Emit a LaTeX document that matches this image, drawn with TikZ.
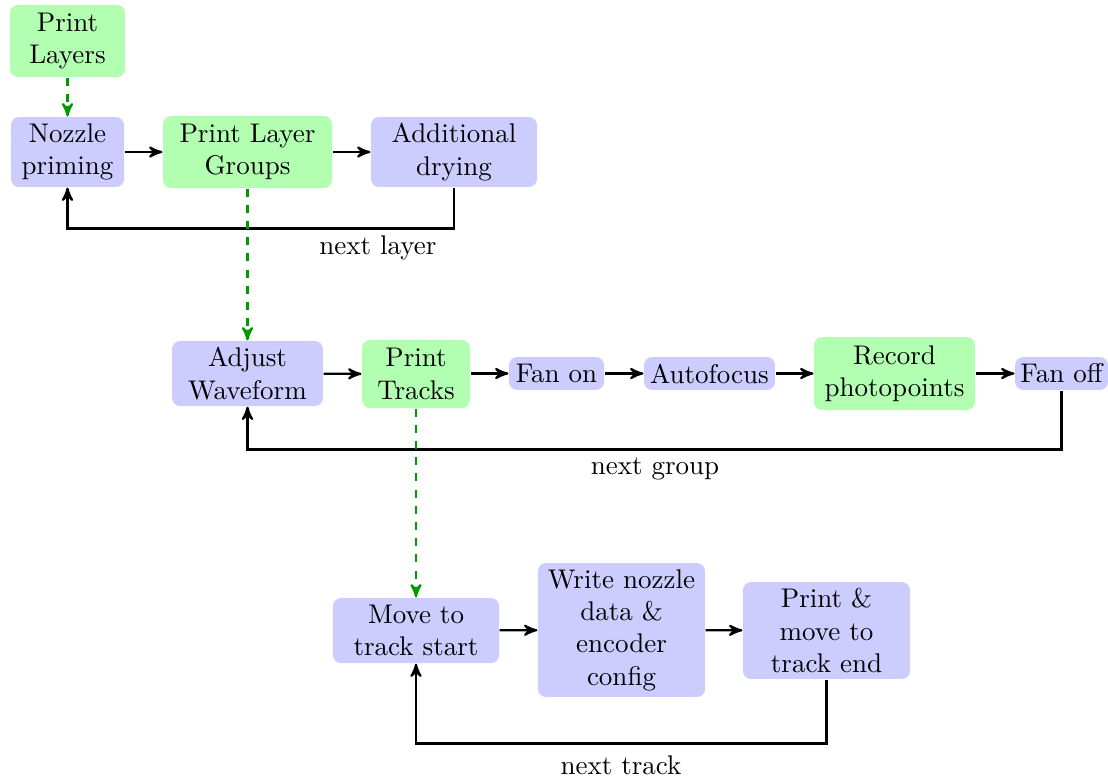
\documentclass[tikz,border=0pt]{standalone}
\usetikzlibrary{arrows}
\definecolor{flowgreen}{RGB}{178,255,178}
\definecolor{flowblue}{RGB}{204,204,255}
\definecolor{dashgreen}{RGB}{0,153,0}
\begin{document}
\begin{tikzpicture}[x=0.37037pt,y=-0.37037pt,
  box/.style={rounded corners=3pt,align=center,inner sep=1pt,anchor=center},
  greenbox/.style={box,fill=flowgreen},
  bluebox/.style={box,fill=flowblue},
  flow/.style={->,>=stealth',thick},
  loopback/.style={->,>=stealth',thick},
  nested/.style={->,>=stealth',thick,dashed,dashgreen},
  looplabel/.style={inner sep=1pt}]
\useasboundingbox (0,0) rectangle (1108,778);

% top level
\node[greenbox,minimum width=42.6pt,minimum height=26.7pt] (layers) at (67.5,41) {Print\\Layers};
\node[bluebox,minimum width=41.9pt,minimum height=25.9pt] (prime) at (67.5,152) {Nozzle\\priming};
\node[greenbox,minimum width=62.6pt,minimum height=26.7pt] (groups) at (247.5,152) {Print Layer\\Groups};
\node[bluebox,minimum width=61.5pt,minimum height=25.9pt] (dry) at (454,152) {Additional\\drying};
\node[looplabel] (nextlayer) at (378,248) {next layer};

% layer group level
\node[bluebox,minimum width=55.9pt,minimum height=24.1pt] (wave) at (247.5,373.5) {Adjust\\Waveform};
\node[greenbox,minimum width=40pt,minimum height=25.2pt] (tracks) at (416,374) {Print\\Tracks};
\node[bluebox,minimum width=35.2pt,minimum height=12.2pt] (fanon) at (556.5,373.5) {Fan on};
\node[bluebox,minimum width=48.5pt,minimum height=12.2pt] (focus) at (709.5,373.5) {Autofocus};
\node[greenbox,minimum width=59.6pt,minimum height=27pt] (photo) at (894.5,373.5) {Record\\photopoints};
\node[bluebox,minimum width=34.4pt,minimum height=12.2pt] (fanoff) at (1061.5,373.5) {Fan off};
\node[looplabel] (nextgroup) at (655,469) {next group};

% track level
\node[bluebox,minimum width=61.5pt,minimum height=24.1pt] (start) at (416,630.5) {Move to\\track start};
\node[bluebox,minimum width=61.9pt,minimum height=49.6pt] (write) at (621.5,630) {Write nozzle\\data \&\\encoder\\config};
\node[bluebox,minimum width=61.9pt,minimum height=35.9pt] (move) at (826.5,630.5) {Print \&\\move to\\track end};
\node[looplabel] (nexttrack) at (621,765) {next track};

% sequence arrows
\draw[flow] (prime) -- (groups);
\draw[flow] (groups) -- (dry);
\draw[flow] (wave) -- (tracks);
\draw[flow] (tracks.east |- fanon) -- (fanon);
\draw[flow] (fanon) -- (focus);
\draw[flow] (focus) -- (photo);
\draw[flow] (photo) -- (fanoff);
\draw[flow] (start) -- (write);
\draw[flow] (write) -- (move);

% loops
\draw[loopback] (dry.south) -- ++(0,41) -| (prime.south);
\draw[loopback] (fanoff.south) -- ++(0,59) -| (wave.south);
\draw[loopback] (move.south) -- ++(0,64) -| (start.south);

% expansion of a step into its sub-steps
\draw[nested] (layers) -- (prime);
\draw[nested] (groups) -- (wave);
\draw[nested] (tracks) -- (start);
\end{tikzpicture}
\end{document}
